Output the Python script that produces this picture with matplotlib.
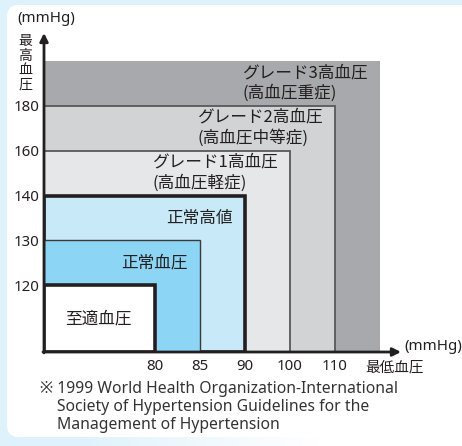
import numpy as np
import matplotlib
matplotlib.use("Agg")
import matplotlib.pyplot as plt
from matplotlib.patches import FancyBboxPatch

# Blood pressure classes, innermost box first
categories = ["至適血圧", "正常血圧", "正常高値",
              "グレード1高血圧\n(高血圧軽症)",
              "グレード2高血圧\n(高血圧中等症)",
              "グレード3高血圧\n(高血圧重症)"]
systolic_upper = [120, 130, 140, 160, 180, 200]   # 最高血圧 (mmHg)
diastolic_upper = [80, 85, 90, 100, 110, 120]     # 最低血圧 (mmHg)
systolic_ticks = [120, 130, 140, 160, 180]
diastolic_ticks = [80, 85, 90, 100, 110]
footnote = ["※ 1999 World Health Organization-International",
            "Society of Hypertension Guidelines for the",
            "Management of Hypertension"]

SYS_MIN, DIA_MIN = 90, 60

# Box styles, innermost first
fills = ["#ffffff", "#8dd5f4", "#c7e9f8", "#e6e7e8", "#d1d3d4", "#a7a9ac"]
edges = ["#231f20", "#3a3a3a", "#231f20", "#58595b", "#58595b", "none"]
widths = [2.6, 1.0, 2.6, 1.3, 1.3, 0]

JP = ["Noto Sans CJK JP", "DejaVu Sans"]
LATIN = ["Noto Sans", "Noto Sans CJK JP", "DejaVu Sans"]
BAND = "#def2fb"
INK = "#231f20"

W, H = 462, 446
fig = plt.figure(figsize=(W / 100, H / 100), dpi=100)
fig.patch.set_facecolor(BAND)

# panel background (pixel coordinates, origin top-left)
bg = fig.add_axes([0, 0, 1, 1])
bg.set_xlim(0, W)
bg.set_ylim(H, 0)
bg.axis("off")
bg.add_patch(FancyBboxPatch((7, 5), 520, 432,
                            boxstyle="round,pad=0,rounding_size=12",
                            fc="white", ec="none"))
fade = np.ones((1, 200, 4))
fade[0, :, 3] = np.clip(np.linspace(-0.3, 1.6, 200), 0, 1)
bg.imshow(fade, extent=(0, W, H, 437), aspect="auto", interpolation="bilinear")


def stepped_scale(knots, base):
    pos = [0.0] + [base + i for i in range(len(knots) - 1)]
    fwd = lambda v: np.interp(v, knots, pos)
    inv = lambda p: np.interp(p, pos, knots)
    return fwd, inv


ax = fig.add_axes([44 / W, 94 / H, 336 / W, 291 / H])
ax.patch.set_alpha(0)
ax.set_xscale("function", functions=stepped_scale([DIA_MIN] + diastolic_upper, 2.47))
ax.set_yscale("function", functions=stepped_scale([SYS_MIN] + systolic_upper, 1.49))
ax.set_xlim(DIA_MIN, diastolic_upper[-1])
ax.set_ylim(SYS_MIN, systolic_upper[-1])

for i in reversed(range(len(categories))):
    ax.bar(DIA_MIN, systolic_upper[i] - SYS_MIN, width=diastolic_upper[i] - DIA_MIN,
           bottom=SYS_MIN, align="edge", color=fills[i],
           edgecolor=edges[i], linewidth=widths[i], zorder=2 + (len(categories) - i))

for s in ax.spines.values():
    s.set_visible(False)
ax.set_xticks(diastolic_ticks, [str(v) for v in diastolic_ticks])
ax.set_yticks(systolic_ticks, [str(v) for v in systolic_ticks])
ax.tick_params(length=0, labelsize=10.8, colors=INK, pad=5)
ax.tick_params(axis="y", pad=3)
for lab in ax.get_xticklabels() + ax.get_yticklabels():
    lab.set_family(LATIN)

# class labels anchored to each box's top-right corner
label_kw = dict(textcoords="offset pixels", family=JP, fontsize=12, color=INK, zorder=20)
ax.annotate(categories[0],
            xy=((DIA_MIN + diastolic_upper[0]) / 2, 0), xycoords=("data", "axes fraction"),
            xytext=(-1, 33), ha="center", va="center", **label_kw)
for i in (1, 2):
    ax.annotate(categories[i], xy=(diastolic_upper[i], systolic_upper[i]),
                xytext=(-12, -23), ha="right", va="center", **label_kw)
for i in (3, 4, 5):
    ax.annotate(categories[i], xy=(diastolic_upper[i], systolic_upper[i]),
                xytext=(-138, -3), ha="left", va="top", linespacing=1.25, **label_kw)

# axis arrows
arrow = dict(arrowstyle="-|>", lw=2, color=INK, mutation_scale=12,
             shrinkA=0, shrinkB=0)
ax.annotate("", xy=(0, 319 / 291), xytext=(0, -0.003), xycoords="axes fraction",
            arrowprops=arrow, zorder=30, annotation_clip=False)
ax.annotate("", xy=(357 / 336, 0), xytext=(-0.003, 0), xycoords="axes fraction",
            arrowprops=arrow, zorder=30, annotation_clip=False)

# axis titles and note
fig.text(17 / W, 1 - 18 / H, "(mmHg)", family=LATIN, fontsize=10.8, color=INK,
         ha="left", va="center")
fig.text(25 / W, 1 - 63 / H, "最\n高\n血\n圧", family=JP, fontsize=10, color=INK,
         ha="center", va="center", linespacing=1.05)
fig.text(404 / W, 1 - 346 / H, "(mmHg)", family=LATIN, fontsize=10.8, color=INK,
         ha="left", va="center")
fig.text(395 / W, 1 - 368 / H, "最低血圧", family=JP, fontsize=10.5, color=INK,
         ha="center", va="center")
note_x = [40, 57, 57]
for k, line in enumerate(footnote):
    fig.text(note_x[k] / W, 1 - (389 + 18 * k) / H, line, family=LATIN,
             fontsize=11.3, color="#333333", ha="left", va="center")

fig.savefig("out.png", dpi=100, facecolor=fig.get_facecolor())
